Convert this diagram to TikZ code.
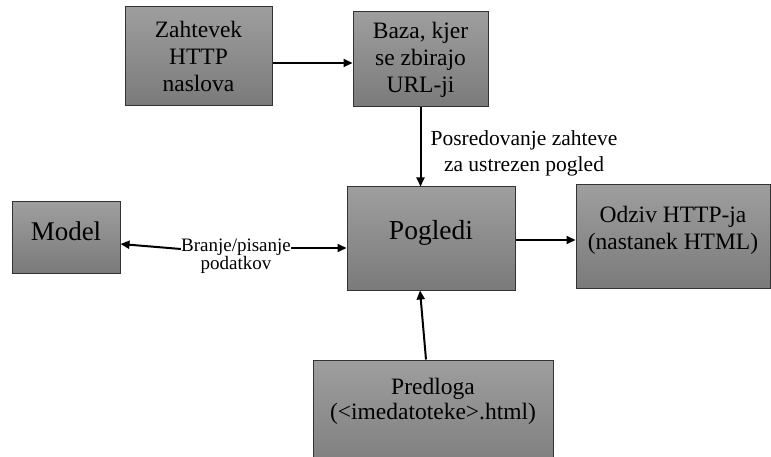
\documentclass[tikz,border=0pt]{standalone}
\usepackage{fontspec}
\setmainfont{Liberation Serif}
\newfontfamily\tms{Liberation Serif}
\usetikzlibrary{positioning,arrows.meta}
\begin{document}
\begin{tikzpicture}[x=1pt,y=-1pt,
		box/.style={draw=black!80,line width=1pt,top color=black!38,bottom color=black!52,align=center,inner sep=0pt,font=\tms\fontsize{23.5}{27}\selectfont},
		arr/.style={line width=2pt,-{Triangle[length=9pt,width=8pt]}},
		lbl/.style={align=center,inner sep=0pt}]
		\useasboundingbox (0,0) rectangle (771,457);
		\clip (0,0) rectangle (771,457);
		\node[box,minimum width=147pt,minimum height=99pt](zahtevek) at (198.5,56){Zahtevek\\HTTP\\naslova};
		\node[box,minimum width=135pt,minimum height=95pt](baza) at (420.5,59.5){Baza, kjer\\se zbirajo\\URL-ji};
		\node[box,minimum width=108pt,minimum height=71pt,text depth=13pt,font=\tms\fontsize{27}{30}\selectfont](model) at (66,237.5){Model};
		\node[box,minimum width=168pt,minimum height=103pt,text depth=17pt,font=\tms\fontsize{27.5}{30}\selectfont](pogledi) at (431,238.5){Pogledi};
		\node[box,minimum width=194pt,minimum height=103pt](odziv) at (673,236.5){Odziv HTTP-ja\\(nastanek HTML)\\[-10pt]};
		\node[box,minimum width=240pt,minimum height=120pt](predloga) at (433,420){};
		\node[lbl,font=\tms\fontsize{23.5}{25}\selectfont](predlogatext) at (433,401){Predloga\\(<imedatoteke>.html)};
		\node[lbl,font=\tms\fontsize{21.5}{26}\selectfont](posred) at (524,153){Posredovanje zahteve\\za ustrezen pogled};
		\node[lbl,font=\tms\fontsize{19}{18}\selectfont](rw) at (236,256){Branje/pisanje\\podatkov};
		\draw[arr](zahtevek.east|-0,63)--(baza.west|-0,63);
		\draw[arr](baza.south)--(baza.south|-pogledi.north);
		\draw[arr]([yshift=7pt]rw.west)--([yshift=-6.5pt]model.east);
		\draw[arr]([yshift=8pt]rw.east)--([yshift=8pt]rw.east-|pogledi.west);
		\draw[arr](pogledi.east|-0,240)--(odziv.west|-0,240);
		\draw[arr]([xshift=-7pt]predloga.north)--([xshift=-11pt]pogledi.south);
	\end{tikzpicture}
\end{document}
